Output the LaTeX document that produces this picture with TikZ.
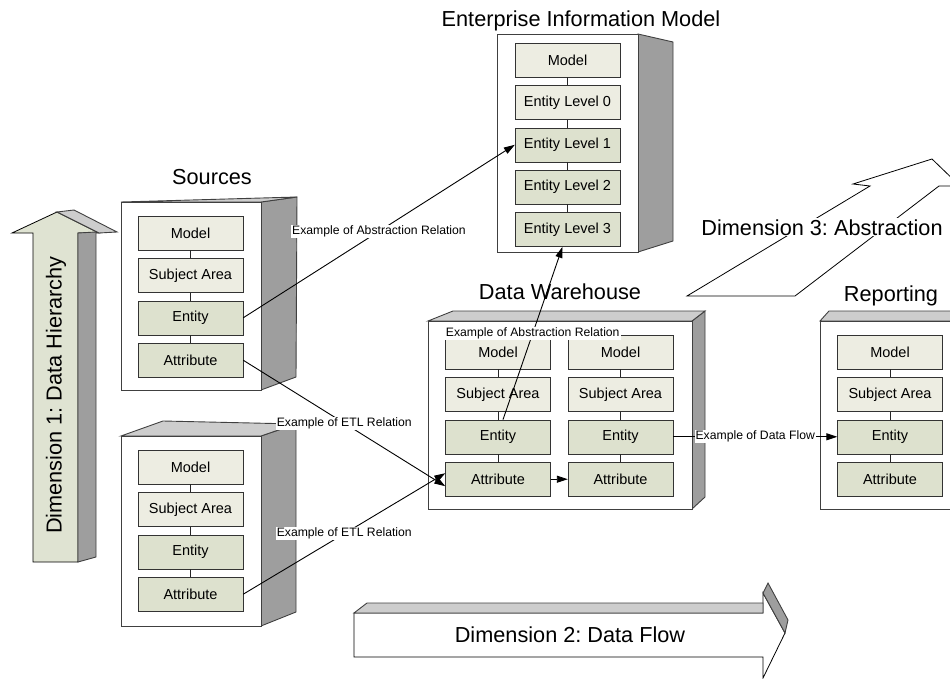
\documentclass[tikz,border=0pt]{standalone}
\usepackage{fontspec}
\setmainfont{Liberation Sans}
\usepackage{xcolor}
\usetikzlibrary{arrows.meta, positioning, calc}
\frenchspacing

\definecolor{boxlite}{RGB}{237,237,226}
\definecolor{boxdark}{RGB}{221,225,206}
\definecolor{arrowfill}{RGB}{223,227,210}
\definecolor{sidegray}{RGB}{158,158,158}
\definecolor{topgray}{RGB}{205,205,205}

\begin{document}
\begin{tikzpicture}[
		x=1pt, y=-1pt,
		node distance=8pt,
		lite/.style={rectangle, draw=black!80, fill=boxlite, minimum width=105pt, minimum height=34pt, inner sep=0pt, font=\fontsize{14.5}{16}\selectfont},
		dark/.style={lite, fill=boxdark},
		title/.style={anchor=base, font=\fontsize{21.7}{24}\selectfont},
		note/.style={fill=white, inner sep=1pt, font=\fontsize{12.2}{14}\selectfont},
		link/.style={draw=black!85, line width=0.8pt},
		arrow/.style={-{Triangle[length=11pt, width=7pt]}, line width=0.9pt},
		front/.style={draw=black!75, fill=white, line width=0.9pt},
		side/.style={draw=black!75, fill=sidegray, line width=0.9pt},
		topface/.style={draw=black!75, fill=topgray, line width=0.9pt},
		outline/.style={draw=black, line width=0.8pt}
	]

	\path[use as bounding box, clip] (0,0) rectangle (950,679);

	% 1. Panah Dimensi (tiga arah)
	\draw[outline, fill=arrowfill] (33,562) -- (33,233) -- (12,233) -- (57,212) -- (99,233) -- (78,233) -- (78,562) -- cycle;
	\draw[topface] (57,212) -- (74,210) -- (117,232) -- (99,233) -- cycle;
	\draw[side] (78,233) -- (96,232) -- (96,557) -- (78,562) -- cycle;
	\node[title, rotate=90] (dimhier) at (61.5,395) {Dimension 1: Data Hierarchy};

	\draw[outline, fill=white] (354,613) -- (763,613) -- (763,593) -- (785,633) -- (763,678) -- (763,657) -- (354,657) -- cycle;
	\draw[topface] (354,613) -- (367,603) -- (763,603) -- (763,613) -- cycle;
	\draw[side] (763,593) -- (768,583) -- (788,620) -- (785,633) -- cycle;
	\node[title] (dimflow) at (570,642) {Dimension 2: Data Flow};

	\draw[outline, fill=white] (687,296) -- (795,296) -- (939,186) -- (960,186) -- (932,159) -- (853,184) -- (870,186) -- cycle;
	\node[title, fill=white, inner sep=1pt] (dimabs) at (822,235) {Dimension 3: Abstraction};

	% 2. Kotak 3D (sumber, EIM, data warehouse, reporting)
	\draw[side] (261,202) -- (297,197) -- (296,377) -- (261,390) -- cycle;
	\draw[topface] (121,202) -- (297,197) -- (261,202) -- cycle;
	\draw[front] (121,202) rectangle (261,390);

	\draw[side] (261,436) -- (296,424) -- (296,612) -- (261,626) -- cycle;
	\draw[topface] (121,436) -- (163,421) -- (296,424) -- (261,436) -- cycle;
	\draw[front] (121,436) rectangle (261,626);

	\draw[side] (638,34) -- (673,42) -- (673,241) -- (638,252) -- cycle;
	\draw[front] (497,34) rectangle (638,252);

	\draw[side] (692,321) -- (705,311) -- (705,497) -- (692,509) -- cycle;
	\draw[topface] (428,321) -- (453,311) -- (705,311) -- (692,321) -- cycle;
	\draw[front] (428,321) rectangle (692,509);

	\draw[topface] (820,321) -- (829,311) -- (975,311) -- (975,321) -- cycle;
	\draw[front] (820,321) rectangle (975,509);

	% Judul tiap kotak
	\node[title] (eimtitle) at (581,27) {Enterprise Information Model};
	\node[title] (srctitle) at (212,185) {Sources};
	\node[title] (dwtitle) at (560,299) {Data Warehouse};
	\node[title] (reptitle) at (891,301) {Reporting};

	% 3. Blok isi: Sources
	\node[lite] (s1m) at (190.5,233) {Model};
	\node[lite, below=of s1m] (s1s) {Subject Area};
	\node[dark, below=of s1s] (s1e) {Entity};
	\node[dark, below=of s1e] (s1a) {Attribute};

	\node[lite] (s2m) at (190.5,467) {Model};
	\node[lite, below=of s2m] (s2s) {Subject Area};
	\node[dark, below=of s2s] (s2e) {Entity};
	\node[dark, below=of s2e] (s2a) {Attribute};

	% Enterprise Information Model
	\node[lite] (eimm) at (567.5,60) {Model};
	\node[lite, below=of eimm] (eim0) {Entity Level 0};
	\node[dark, below=of eim0] (eim1) {Entity Level 1};
	\node[dark, below=of eim1] (eim2) {Entity Level 2};
	\node[dark, below=of eim2] (eim3) {Entity Level 3};

	% Data Warehouse (dua kolom)
	\node[lite] (dwlm) at (498,352) {Model};
	\node[lite, below=of dwlm] (dwls) {Subject Area};
	\node[dark, below=of dwls] (dwle) {Entity};
	\node[dark, below=of dwle] (dwla) {Attribute};

	\node[lite] (dwrm) at (620.5,352) {Model};
	\node[lite, below=of dwrm] (dwrs) {Subject Area};
	\node[dark, below=of dwrs] (dwre) {Entity};
	\node[dark, below=of dwre] (dwra) {Attribute};

	% Reporting
	\node[lite] (repm) at (890,352) {Model};
	\node[lite, below=of repm] (reps) {Subject Area};
	\node[dark, below=of reps] (repe) {Entity};
	\node[dark, below=of repe] (repa) {Attribute};

	% Garis penghubung antar level
	\draw[link] (s1m) -- (s1s) (s1s) -- (s1e) (s1e) -- (s1a);
	\draw[link] (s2m) -- (s2s) (s2s) -- (s2e) (s2e) -- (s2a);
	\draw[link] (eimm) -- (eim0) (eim0) -- (eim1) (eim1) -- (eim2) (eim2) -- (eim3);
	\draw[link] (dwlm) -- (dwls) (dwls) -- (dwle) (dwle) -- (dwla);
	\draw[link] (dwrm) -- (dwrs) (dwrs) -- (dwre) (dwre) -- (dwra);
	\draw[link] (repm) -- (reps) (reps) -- (repe) (repe) -- (repa);

	% 4. Panah relasi
	\draw[arrow] (s1e.east) -- node[note] {Example of Abstraction Relation} (eim1.west);
	\draw[arrow] (s1a.east) -- node[note] {Example of ETL Relation} ([yshift=-7pt]dwla.west);
	\draw[arrow] (s2a.east) -- node[note] {Example of ETL Relation} ([yshift=6pt]dwla.west);
	\draw[arrow] ([xshift=5pt]dwle.north) -- node[note] {Example of Abstraction Relation} ([xshift=-5pt]eim3.south);
	\draw[arrow] (dwla) -- (dwra);
	\draw[arrow] (dwre) -- node[note] {Example of Data Flow} (repe);

\end{tikzpicture}
\end{document}
